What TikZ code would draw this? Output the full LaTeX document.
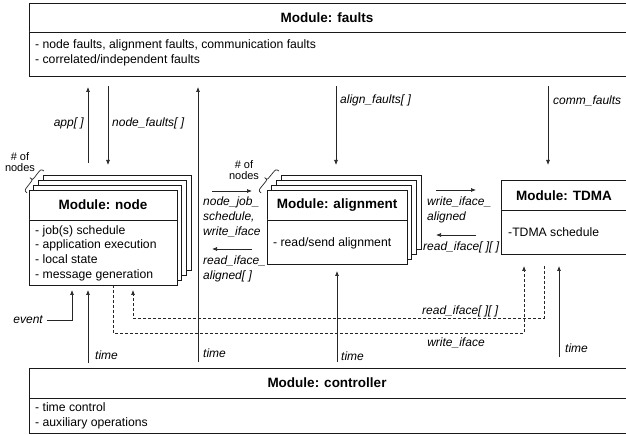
\documentclass[tikz,border=0pt]{standalone}
\usepackage{fontspec}
\setmainfont{Liberation Sans}
\usetikzlibrary{arrows.meta}
\begin{document}
\begin{tikzpicture}[x=1pt,y=-1pt,
  box/.style={draw=black!90, line width=0.9pt, fill=white, inner sep=0pt, outer sep=0pt},
  ttl/.style={font=\fontsize{13.5}{16}\selectfont\bfseries, inner sep=0pt},
  body/.style={font=\fontsize{12.2}{14.7}\selectfont, align=left, anchor=west, inner sep=0pt},
  lbl/.style={font=\fontsize{12}{15}\selectfont\itshape, align=left, inner sep=0pt},
  small/.style={font=\fontsize{11}{10.5}\selectfont, align=center, inner sep=0pt},
  arr/.style={draw=black!85, line width=0.7pt, -{Latex[length=5pt,width=4pt]}},
  dsh/.style={draw=black!85, line width=0.7pt, dash pattern=on 3pt off 2pt},
  brc/.style={draw=black!85, line width=0.7pt},
]
\useasboundingbox (0,0) rectangle (626,435);

% ---------- Module: faults ----------
\node[box, anchor=north west, minimum width=600pt, minimum height=73pt] (faults) at (29,3) {};
\draw[box] (29,32) -- (629,32);
\node[ttl] (faultsT) at (327,17.5) {Module: faults};
\node[body] (faultsB) at (35,52.5) {- node faults, alignment faults, communication faults\\- correlated/independent faults};

% ---------- Module: controller ----------
\node[box, anchor=north west, minimum width=600pt, minimum height=65pt] (ctrl) at (29,368) {};
\draw[box] (29,398) -- (629,398);
\node[ttl] (ctrlT) at (327,383) {Module: controller};
\node[body] (ctrlB) at (35,415.5) {- time control\\- auxiliary operations};

% ---------- Module: node (stack) ----------
\foreach \k in {3,2,1}{
  \node[box, anchor=north west, minimum width=148pt, minimum height=95pt] (nodeback\k) at (29+4.7*\k,190-4.7*\k) {};
}
\node[box, anchor=north west, minimum width=148pt, minimum height=95pt] (node) at (29,190) {};
\draw[box] (29,220) -- (177,220);
\node[ttl] (nodeT) at (103,205) {Module: node};
\node[body] (nodeB) at (35,253) {- job(s) schedule\\- application execution\\- local state\\- message generation};

% ---------- Module: alignment (stack) ----------
\foreach \k in {3,2,1}{
  \node[box, anchor=north west, minimum width=140pt, minimum height=74pt] (alignback\k) at (267+4.7*\k,190-4.7*\k) {};
}
\node[box, anchor=north west, minimum width=140pt, minimum height=74pt] (align) at (267,190) {};
\draw[box] (267,220) -- (407,220);
\node[ttl] (alignT) at (337,205) {Module: alignment};
\node[body] (alignB) at (273,243) {- read/send alignment};

% ---------- Module: TDMA ----------
\node[box, anchor=north west, minimum width=128pt, minimum height=74pt] (tdma) at (501,180) {};
\draw[box] (501,210) -- (629,210);
\node[ttl] (tdmaT) at (564,195.5) {Module: TDMA};
\node[body] (tdmaB) at (508,232) {-TDMA schedule};

% ---------- "# of nodes" with braces ----------
\node[small] (numN) at (20,162) {\# of\\nodes};
\begin{scope}[shift={(27,193)}, x={(0.611pt,0.791pt)}, y={(-0.791pt,0.611pt)}]
  \draw[brc] (0,0) .. controls (0,3.6) and (1.5,3.6) .. (5,3.6) -- (10.4,3.6)
    .. controls (13.9,3.6) .. (13.9,7) .. controls (13.9,3.6) .. (17.4,3.6)
    -- (22.8,3.6) .. controls (26.3,3.6) and (27.8,3.6) .. (27.8,0);
\end{scope}
\node[small] (numA) at (244,170) {\# of\\nodes};
\begin{scope}[shift={(261,193)}, x={(0.634pt,0.774pt)}, y={(-0.774pt,0.634pt)}]
  \draw[brc] (0,0) .. controls (0,3.6) and (1.5,3.6) .. (5,3.6) -- (10.7,3.6)
    .. controls (14.2,3.6) .. (14.2,7) .. controls (14.2,3.6) .. (17.7,3.6)
    -- (23.4,3.6) .. controls (26.9,3.6) and (28.4,3.6) .. (28.4,0);
\end{scope}

% ---------- connector end points ----------
\coordinate (appS) at (88,163);   \coordinate (appE) at (88,87);
\coordinate (nfS) at (108,86);    \coordinate (nfE) at (108,165);
\coordinate (tmS) at (198,362);   \coordinate (tmE) at (198,87);
\coordinate (afS) at (336,86);    \coordinate (afE) at (336,165);
\coordinate (cfS) at (548,86);    \coordinate (cfE) at (548,165);
\coordinate (naS) at (212,191);   \coordinate (naE) at (252,191);
\coordinate (anS) at (252,249);   \coordinate (anE) at (212,249);
\coordinate (atS) at (436,190);   \coordinate (atE) at (476,190);
\coordinate (taS) at (476,235);   \coordinate (taE) at (436,235);
\coordinate (evS) at (47,320);    \coordinate (evE) at (72,290);
\coordinate (ntS) at (88,363);    \coordinate (ntE) at (88,290);
\coordinate (wrS) at (113,285);   \coordinate (wrE) at (524,266);
\coordinate (rdS) at (544,266);   \coordinate (rdE) at (133,290);
\coordinate (alS) at (337,362);   \coordinate (alE) at (337,271);
\coordinate (tdS) at (559,357);   \coordinate (tdE) at (559,266);

% ---------- connectors ----------
\draw[arr] (appS) -- (appE);
\draw[arr] (nfS) -- (nfE);
\draw[arr] (tmS) -- (tmE);
\draw[arr] (afS) -- (afE);
\draw[arr] (cfS) -- (cfE);
\draw[arr] (naS) -- (naE);
\draw[arr] (anS) -- (anE);
\draw[arr] (atS) -- (atE);
\draw[arr] (taS) -- (taE);
\draw[arr] (evS) -| (evE);
\draw[arr] (ntS) -- (ntE);
\draw[dsh, -{Latex[length=5pt,width=4pt]}] (wrS) -- (113,333) -- (524,333) -- (wrE);
\draw[dsh, -{Latex[length=5pt,width=4pt]}] (rdS) -- (544,318) -- (133,318) -- (rdE);
\draw[arr] (alS) -- (alE);
\draw[arr] (tdS) -- (tdE);

% ---------- labels ----------
\node[lbl, anchor=east] (lapp) at (84,123) {app[ ]};
\node[lbl, anchor=west] (lnf) at (112,123) {node\_faults[ ]};
\node[lbl, anchor=west] (laf) at (340,100) {align\_faults[ ]};
\node[lbl, anchor=west] (lcf) at (553,101) {comm\_faults};
\node[lbl, anchor=west] (lna) at (203,217) {node\_job\_\\schedule,\\write\_iface};
\node[lbl, anchor=west] (lan) at (203,269) {read\_iface\_\\aligned[ ]};
\node[lbl, anchor=west] (lat) at (427,210) {write\_iface\_\\aligned};
\node[lbl, anchor=west] (lta) at (423,247) {read\_iface[ ][ ]};
\node[lbl, anchor=west] (lrd) at (422,311) {read\_iface[ ][ ]};
\node[lbl] (lwr) at (456,343) {write\_iface};
\node[lbl, anchor=east] (lev) at (43,320) {event};
\node[lbl, anchor=west] (lt1) at (95,355) {time};
\node[lbl, anchor=west] (lt2) at (203,353) {time};
\node[lbl, anchor=west] (lt3) at (341,356) {time};
\node[lbl, anchor=west] (lt4) at (565,348) {time};
\end{tikzpicture}
\end{document}
